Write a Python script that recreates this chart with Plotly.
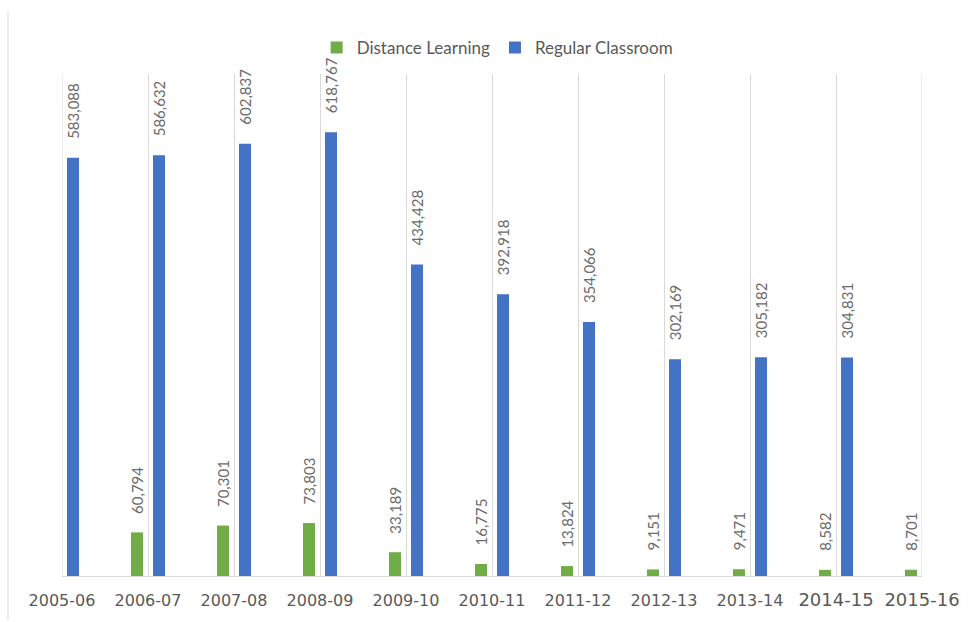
import plotly.graph_objects as go

# Enrollment by school year
years = ["2005-06", "2006-07", "2007-08", "2008-09", "2009-10", "2010-11",
         "2011-12", "2012-13", "2013-14", "2014-15", "2015-16"]
distance_learning = [None, 60794, 70301, 73803, 33189, 16775, 13824, 9151, 9471, 8582, 8701]
regular_classroom = [583088, 586632, 602837, 618767, 434428, 392918, 354066, 302169, 305182, 304831, None]
tick_sizes = [16, 16, 16, 16, 16, 16, 16, 16, 16, 18, 18]

GREEN = "#70AD47"
BLUE = "#4472C4"
LABEL_GRAY = "#6b6b6b"
AXIS_GRAY = "#d9d9d9"

W, H = 972, 622
L, R, T, B = 62, 50, 74, 44
Y_MAX = 700000

BARGAP = 0.488
BARGROUPGAP = 0.455
# center offset of each bar within its category (grouped layout, two series)
slot = (1 - BARGAP) / 2
offsets = [-slot / 2, slot / 2]

x_pos = list(range(len(years)))

fig = go.Figure()
fig.add_trace(go.Bar(name="Distance Learning", x=x_pos, y=distance_learning,
                     marker=dict(color=GREEN, line=dict(width=0))))
fig.add_trace(go.Bar(name="Regular Classroom", x=x_pos, y=regular_classroom,
                     marker=dict(color=BLUE, line=dict(width=0))))

# rotated value labels above each bar
annotations = []
for series, off in ((distance_learning, offsets[0]), (regular_classroom, offsets[1])):
    for i, v in enumerate(series):
        if v is None:
            continue
        annotations.append(dict(
            x=i + off, y=v, xref="x", yref="y",
            text=f"{v:,}", textangle=-90, showarrow=False,
            xanchor="center", yanchor="bottom", yshift=17,
            font=dict(family="Lato", size=15, color=LABEL_GRAY),
        ))

ticktext = [f'<span style="font-size:{s}px">{y}</span>' for y, s in zip(years, tick_sizes)]

# outer frame edge on the left and the category gridlines at both ends of the axis
shapes = [dict(type="line", xref="paper", yref="paper",
               x0=(8 - L) / (W - L - R), x1=(8 - L) / (W - L - R),
               y0=-B / (H - T - B), y1=(H - B - 11) / (H - T - B),
               line=dict(color=AXIS_GRAY, width=1))]
for edge in (x_pos[0], x_pos[-1]):
    shapes.append(dict(type="line", xref="x", yref="y", x0=edge, x1=edge,
                       y0=0, y1=Y_MAX, line=dict(color=AXIS_GRAY, width=1),
                       layer="below"))

fig.update_layout(
    width=W, height=H,
    margin=dict(l=L, r=R, t=T, b=B),
    paper_bgcolor="white", plot_bgcolor="white",
    barmode="group", bargap=BARGAP, bargroupgap=BARGROUPGAP,
    showlegend=True,
    legend=dict(orientation="h", x=0.506, xanchor="center", y=1.052, yanchor="middle",
                font=dict(family="Lato", size=17, color="#595959"),
                itemwidth=30, traceorder="normal"),
    annotations=annotations,
    shapes=shapes,
    xaxis=dict(range=[x_pos[0], x_pos[-1]], tickvals=x_pos, ticktext=ticktext,
               showgrid=True, gridcolor=AXIS_GRAY, gridwidth=1,
               showline=True, linecolor=AXIS_GRAY, linewidth=1,
               ticks="", ticklabelstandoff=10, zeroline=False,
               tickfont=dict(family="DejaVu Sans", size=16, color="#595959")),
    yaxis=dict(range=[0, Y_MAX], showgrid=False, showticklabels=False,
               zeroline=False, showline=False, ticks=""),
)

fig.write_html("out.html")
